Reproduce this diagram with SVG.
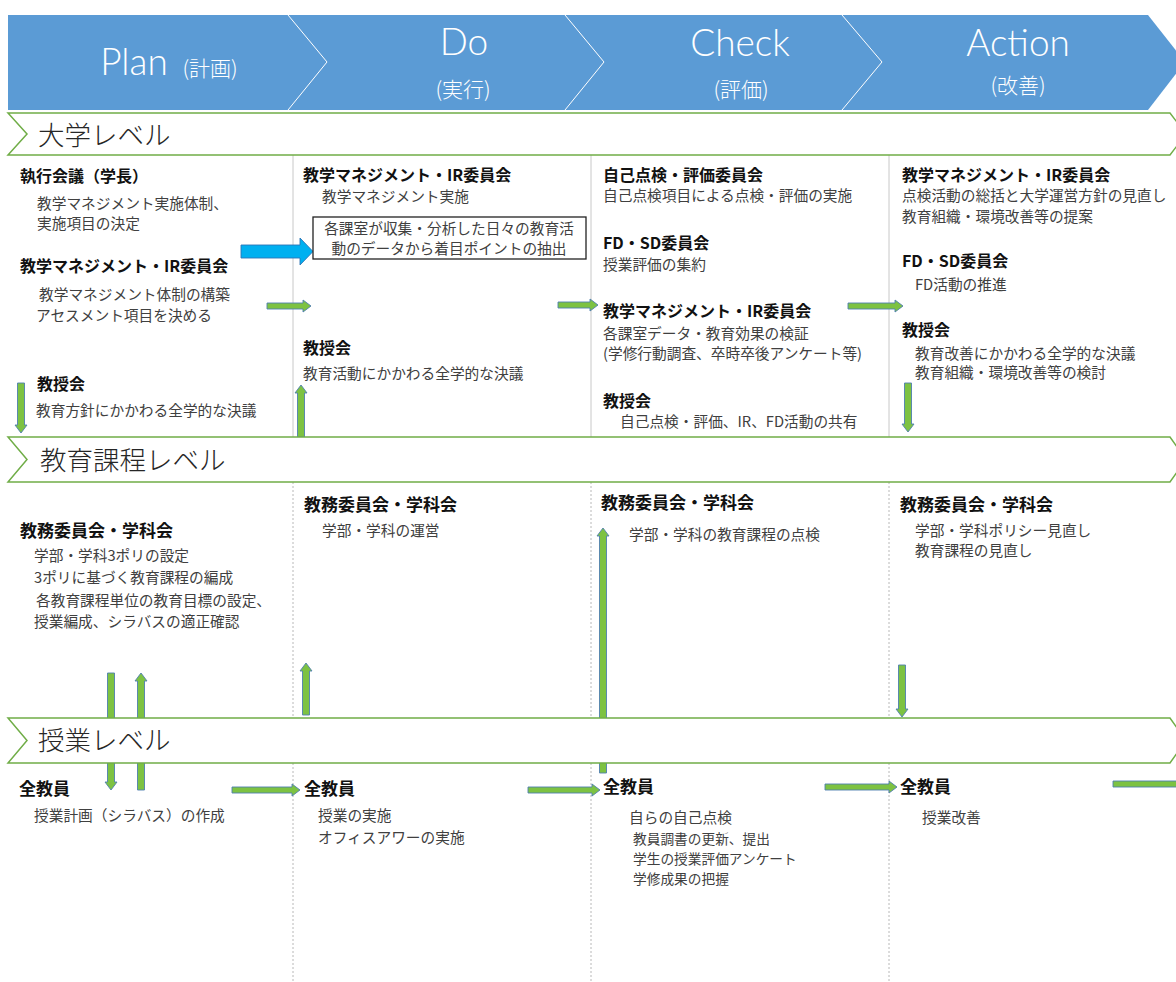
<svg xmlns="http://www.w3.org/2000/svg" width="1176" height="982" viewBox="0 0 1176 982">
<style>
.hd{font-family:Lato,"Open Sans","Noto Sans CJK JP",sans-serif;font-weight:300;fill:#fff;text-anchor:middle}
.hj{font-family:"Noto Sans CJK JP",sans-serif;font-weight:300;fill:#fff;font-size:21px;text-anchor:middle}
.lv{font-family:"Noto Sans CJK JP",sans-serif;font-weight:300;font-size:26.5px;fill:#262626}
.h{font-family:"Noto Sans CJK JP",sans-serif;font-weight:bold;font-size:16px;fill:#111}
.h2{font-family:"Noto Sans CJK JP",sans-serif;font-weight:bold;font-size:17px;fill:#111}
.t{font-family:"Noto Sans CJK JP",sans-serif;font-size:14.7px;fill:#404040}
.ts{font-family:"Noto Sans CJK JP",sans-serif;font-size:13.7px;fill:#404040}
.tc{text-anchor:middle}
.bar{fill:#fff;stroke:#70AD47;stroke-width:1.5}
.div{stroke:#C8C8C8;stroke-width:1}
.dot{stroke:#B8B8B8;stroke-width:1;stroke-dasharray:2 2}
.ga{fill:#7DC242;stroke:#4F7FB0;stroke-width:0.9}
.ba{fill:#00B0F0;stroke:#2E75B6;stroke-width:0.9}
</style>
<rect width="1176" height="982" fill="#fff"/>
<g id="header">
<polygon points="8,15 1148,15 1185,62 1148,110 8,110" fill="#5B9BD5"/>
<polyline points="288,15 327,62 288,110" fill="none" stroke="#fff" stroke-width="1"/>
<polyline points="565,15 604,62 565,110" fill="none" stroke="#fff" stroke-width="1"/>
<polyline points="842,15 882,62 842,110" fill="none" stroke="#fff" stroke-width="1"/>
<text class="hd" x="134" y="75" font-size="37">Plan</text>
<text class="hj" x="210" y="76" font-size="20">(計画)</text>
<text class="hd" x="464" y="55" font-size="37">Do</text>
<text class="hj" x="463" y="97">(実行)</text>
<text class="hd" x="740" y="56" font-size="37">Check</text>
<text class="hj" x="741" y="97">(評価)</text>
<text class="hd" x="1018" y="56" font-size="37">Action</text>
<text class="hj" x="1018" y="93">(改善)</text>
</g>
<g id="dividers">
<line class="div" x1="293" y1="155" x2="293" y2="437"/>
<line class="div" x1="591" y1="155" x2="591" y2="437"/>
<line class="div" x1="889" y1="155" x2="889" y2="437"/>
<line class="dot" x1="293" y1="482" x2="293" y2="718"/>
<line class="dot" x1="591" y1="482" x2="591" y2="718"/>
<line class="dot" x1="889" y1="482" x2="889" y2="718"/>
<line class="dot" x1="293" y1="763" x2="293" y2="982"/>
<line class="dot" x1="591" y1="763" x2="591" y2="982"/>
<line class="dot" x1="889" y1="763" x2="889" y2="982"/>
</g>
<g id="connectors">
<path class="ba" d="M241,245 H300 V238 L313,251.5 L300,265 V258 H241 Z"/>
<path class="ga" d="M267,303 H303 V300 L311,306 L303,312 V309 H267 Z"/>
<path class="ga" d="M558,302 H590 V299 L598,305 L590,311 V308 H558 Z"/>
<path class="ga" d="M848,303 H895 V300 L903,306 L895,312 V309 H848 Z"/>
<path class="ga" d="M232,787 H292 V784 L300,790 L292,796 V793 H232 Z"/>
<path class="ga" d="M528,787 H592 V784 L600,790 L592,796 V793 H528 Z"/>
<path class="ga" d="M825,784 H889 V781 L897,787 L889,793 V790 H825 Z"/>
<path class="ga" d="M1113,781 H1182 V778 L1190,784 L1182,790 V787 H1113 Z"/>
<path class="ga" d="M17.5,383 H24.5 V425 H27 L21,433 L15,425 H17.5 Z"/>
<path class="ga" d="M301,385 L307,393 H304.5 V437 H297.5 V393 H295 Z"/>
<path class="ga" d="M904.5,383 H911.5 V424 H914 L908,432 L902,424 H904.5 Z"/>
<path class="ga" d="M107.5,673 H114.5 V782 H117 L111,790 L105,782 H107.5 Z"/>
<path class="ga" d="M141,673 L147,681 H144.5 V790 H137.5 V681 H135 Z"/>
<path class="ga" d="M306,663 L312,671 H309.5 V715 H302.5 V671 H300 Z"/>
<path class="ga" d="M603,528 L609,536 H606.5 V773 H599.5 V536 H597 Z"/>
<path class="ga" d="M898.5,665 H905.5 V709 H908 L902,717 L896,709 H898.5 Z"/>
</g>
<g id="level-university">
<polygon class="bar" points="8,113 1170,113 1186,134 1170,155 8,155 27,134"/>
<text class="lv" x="38" y="145">大学レベル</text>
</g>
<g id="level-curriculum">
<polygon class="bar" points="8,437 1170,437 1186,459.5 1170,482 8,482 27,459.5"/>
<text class="lv" x="40" y="470">教育課程レベル</text>
</g>
<g id="level-class">
<polygon class="bar" points="8,718 1170,718 1186,740.5 1170,763 8,763 27,740.5"/>
<text class="lv" x="38" y="750">授業レベル</text>
</g>
<g id="plan-university">
<text class="h" x="20" y="182">執行会議（学長）</text>
<text class="t" x="37" y="209">教学マネジメント実施体制、</text>
<text class="t" x="37" y="229">実施項目の決定</text>
<text class="h" x="20" y="272">教学マネジメント・IR委員会</text>
<text class="t" x="39" y="300">教学マネジメント体制の構築</text>
<text class="t" x="36" y="321">アセスメント項目を決める</text>
<text class="h" x="37" y="390">教授会</text>
<text class="t" x="36" y="416">教育方針にかかわる全学的な決議</text>
</g>
<g id="do-university">
<text class="h" x="303" y="181">教学マネジメント・IR委員会</text>
<text class="t" x="322" y="202">教学マネジメント実施</text>
<rect x="313" y="217" width="273" height="42" fill="#fff" stroke="#222" stroke-width="1.3"/>
<text class="t tc" x="449" y="234">各課室が収集・分析した日々の教育活</text>
<text class="t tc" x="449" y="254">動のデータから着目ポイントの抽出</text>
<text class="h" x="303" y="354">教授会</text>
<text class="t" x="303" y="379">教育活動にかかわる全学的な決議</text>
</g>
<g id="check-university">
<text class="h" x="603" y="181">自己点検・評価委員会</text>
<text class="t" x="603" y="201">自己点検項目による点検・評価の実施</text>
<text class="h" x="603" y="249">FD・SD委員会</text>
<text class="t" x="603" y="270">授業評価の集約</text>
<text class="h" x="603" y="317">教学マネジメント・IR委員会</text>
<text class="t" x="603" y="339">各課室データ・教育効果の検証</text>
<text class="t" x="603" y="359">(学修行動調査、卒時卒後アンケート等)</text>
<text class="h" x="603" y="407">教授会</text>
<text class="t" x="620" y="427">自己点検・評価、IR、FD活動の共有</text>
</g>
<g id="action-university">
<text class="h" x="902" y="181">教学マネジメント・IR委員会</text>
<text class="t" x="902" y="201">点検活動の総括と大学運営方針の見直し</text>
<text class="t" x="902" y="222">教育組織・環境改善等の提案</text>
<text class="h" x="902" y="267">FD・SD委員会</text>
<text class="t" x="915" y="290">FD活動の推進</text>
<text class="h" x="902" y="336">教授会</text>
<text class="t" x="915" y="359">教育改善にかかわる全学的な決議</text>
<text class="t" x="915" y="378">教育組織・環境改善等の検討</text>
</g>
<g id="plan-curriculum">
<text class="h2" x="20" y="537">教務委員会・学科会</text>
<text class="t" x="34" y="561">学部・学科3ポリの設定</text>
<text class="t" x="34" y="583">3ポリに基づく教育課程の編成</text>
<text class="t" x="36" y="606">各教育課程単位の教育目標の設定、</text>
<text class="t" x="34" y="627">授業編成、シラバスの適正確認</text>
</g>
<g id="do-curriculum">
<text class="h2" x="304" y="511">教務委員会・学科会</text>
<text class="t" x="322" y="536">学部・学科の運営</text>
</g>
<g id="check-curriculum">
<text class="h2" x="601" y="509">教務委員会・学科会</text>
<text class="t" x="629" y="540">学部・学科の教育課程の点検</text>
</g>
<g id="action-curriculum">
<text class="h2" x="900" y="511">教務委員会・学科会</text>
<text class="t" x="915" y="536">学部・学科ポリシー見直し</text>
<text class="t" x="915" y="556">教育課程の見直し</text>
</g>
<g id="plan-class">
<text class="h2" x="19" y="795">全教員</text>
<text class="t" x="34" y="821">授業計画（シラバス）の作成</text>
</g>
<g id="do-class">
<text class="h2" x="304" y="795">全教員</text>
<text class="t" x="318" y="821">授業の実施</text>
<text class="t" x="318" y="843">オフィスアワーの実施</text>
</g>
<g id="check-class">
<text class="h2" x="603" y="793">全教員</text>
<text class="t" x="629" y="823">自らの自己点検</text>
<text class="ts" x="633" y="844">教員調書の更新、提出</text>
<text class="ts" x="633" y="864">学生の授業評価アンケート</text>
<text class="ts" x="633" y="884">学修成果の把握</text>
</g>
<g id="action-class">
<text class="h2" x="900" y="793">全教員</text>
<text class="t" x="922" y="823">授業改善</text>
</g>
</svg>
